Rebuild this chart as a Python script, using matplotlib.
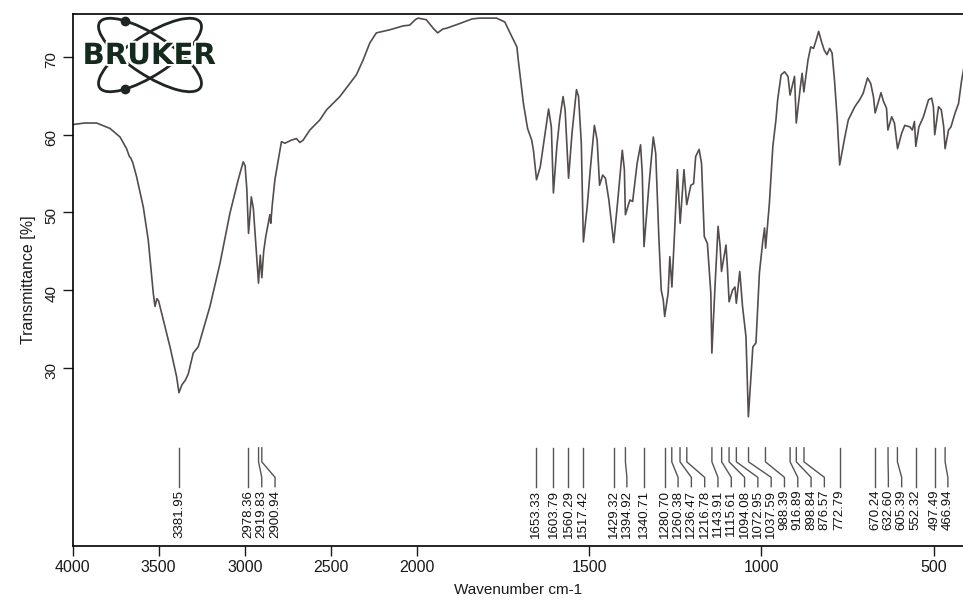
import numpy as np
import matplotlib
matplotlib.use("Agg")
import matplotlib.pyplot as plt
from matplotlib.patches import Ellipse
import matplotlib.patheffects as pe

plt.rcParams['font.family'] = ['Liberation Sans', 'DejaVu Sans']

# spectrum (wavenumber cm-1, transmittance %)
wavenumber = [
    4000, 3930, 3860, 3782, 3724, 3686, 3670, 3662, 3650, 3628, 3589, 3560,
    3531, 3521, 3510, 3500, 3473, 3434, 3396, 3382, 3365, 3345, 3328, 3299,
    3270, 3240, 3202, 3144, 3086, 3038, 3009, 2998, 2988, 2978, 2970, 2962,
    2950, 2932, 2920, 2910, 2901, 2890, 2878, 2854, 2849, 2840, 2825, 2787,
    2767, 2729, 2700, 2680, 2661, 2622, 2564, 2525, 2448, 2390, 2352, 2313,
    2274, 2236, 2158, 2080, 2042, 2010, 1997, 1973, 1953, 1940, 1925, 1914,
    1876, 1840, 1818, 1769, 1745, 1730, 1710, 1706, 1691, 1679, 1667, 1662,
    1653, 1642, 1628, 1618, 1610, 1604, 1594, 1586, 1576, 1570, 1560, 1550,
    1537, 1531, 1523, 1517, 1506, 1497, 1485, 1477, 1470, 1461, 1453, 1443,
    1429, 1417, 1404, 1398, 1395, 1382, 1374, 1361, 1351, 1346, 1341, 1327,
    1314, 1307, 1298, 1291, 1285, 1281, 1271, 1266, 1260, 1252, 1244, 1236,
    1225, 1217, 1205, 1197, 1191, 1181, 1174, 1166, 1157, 1147, 1144, 1135,
    1126, 1120, 1116, 1103, 1099, 1094, 1084, 1077, 1073, 1063, 1055, 1045,
    1038, 1025, 1016, 1006, 996, 991, 988, 977, 967, 958, 953, 943,
    933, 923, 917, 904, 899, 887, 882, 877, 865, 857, 849, 841,
    834, 826, 818, 810, 802, 795, 788, 780, 773, 758, 748, 729,
    715, 705, 692, 683, 675, 670, 659, 653, 646, 637, 633, 622,
    614, 605, 593, 584, 569, 562, 556, 552, 543, 530, 515, 506,
    501, 497, 486, 478, 471, 467, 457, 450, 438, 428, 419, 410,
]
transmittance = [
    61.3, 61.5, 61.5, 60.8, 59.7, 58.2, 57.2, 57.0, 56.4, 54.6, 50.7, 46.4,
    39.6, 37.9, 38.9, 38.6, 36.2, 32.7, 28.9, 26.8, 27.8, 28.4, 29.2, 31.9,
    32.7, 35.0, 37.9, 43.4, 49.9, 54.2, 56.5, 56.0, 53.0, 47.3, 49.5, 52.0,
    50.5, 44.7, 40.9, 44.5, 41.6, 45.0, 46.9, 49.7, 48.6, 51.0, 54.2, 59.1,
    58.9, 59.3, 59.5, 59.0, 59.3, 60.6, 61.9, 63.2, 64.9, 66.6, 67.7, 69.6,
    71.8, 73.1, 73.5, 74.0, 74.1, 74.8, 75.0, 74.8, 73.7, 73.1, 73.6, 73.7,
    74.3, 74.9, 75.0, 75.0, 74.5, 73.1, 71.3, 69.6, 64.0, 60.8, 59.3, 58.0,
    54.2, 55.9, 60.2, 63.3, 61.0, 52.5, 58.5, 61.9, 64.9, 63.2, 54.4, 60.2,
    65.8, 64.9, 58.9, 46.2, 50.7, 55.5, 61.2, 59.3, 53.5, 54.8, 54.4, 51.6,
    46.1, 51.6, 58.0, 55.5, 49.7, 51.6, 51.4, 56.3, 58.7, 55.0, 45.6, 53.3,
    59.7, 57.6, 46.9, 40.0, 38.7, 36.6, 39.6, 44.3, 40.4, 47.7, 55.5, 48.6,
    55.5, 51.0, 53.5, 53.7, 57.2, 58.1, 56.3, 46.9, 46.0, 39.6, 31.9, 40.4,
    48.2, 45.6, 42.4, 45.8, 43.0, 38.5, 40.0, 40.4, 38.3, 42.4, 37.9, 34.0,
    23.7, 32.7, 33.2, 42.2, 46.4, 48.0, 45.4, 51.2, 58.5, 61.9, 64.5, 67.7,
    68.1, 67.5, 65.1, 67.5, 61.5, 66.2, 67.9, 65.5, 69.6, 71.3, 71.1, 72.2,
    73.3, 72.0, 70.9, 70.3, 71.1, 70.5, 67.0, 61.9, 56.1, 59.7, 61.9, 63.6,
    64.5, 65.3, 67.3, 66.6, 64.9, 62.8, 64.5, 65.4, 64.3, 63.4, 60.6, 62.3,
    61.5, 58.2, 60.2, 61.2, 61.0, 60.6, 61.7, 58.5, 61.0, 62.3, 64.5, 64.7,
    63.6, 60.0, 63.6, 63.2, 61.0, 58.2, 60.6, 61.0, 62.8, 64.0, 67.0, 69.2,
]

peaks = [3381.95, 2978.36, 2919.83, 2900.94, 1653.33, 1603.79, 1560.29,
         1517.42, 1429.32, 1394.92, 1340.71, 1280.70, 1260.38, 1236.47,
         1216.78, 1143.91, 1115.61, 1094.08, 1072.95, 1037.59, 988.39,
         916.89, 898.84, 876.57, 772.79, 670.24, 632.60, 605.39, 552.32,
         497.49, 466.94]

x_ticks = [4000, 3500, 3000, 2500, 2000, 1500, 1000, 500]
y_ticks = [30, 40, 50, 60, 70]


# bruker style axis: half scale above 2000 cm-1
def fwd(w):
    w = np.asarray(w, dtype=float)
    return np.where(w >= 2000, w, 2 * w - 2000)


def inv(u):
    u = np.asarray(u, dtype=float)
    return np.where(u >= 2000, u, (u + 2000) / 2)


W, H = 963, 608
fig = plt.figure(figsize=(W / 100, H / 100), dpi=100)
ax = fig.add_axes([72.5 / W, 1 - 546 / H, 1 - 72.5 / W, (546 - 14) / H])
ax.set_xscale('function', functions=(fwd, inv))
ax.plot(wavenumber, transmittance, color='#544d4d', lw=1.2)
ax.set_xlim(4000, 415)
ax.set_ylim(7.07, 75.53)

ax.set_xticks(x_ticks)
ax.set_xticklabels([str(t) for t in x_ticks])
ax.set_yticks(y_ticks)
ax.set_yticklabels([str(t) for t in y_ticks])
ax.minorticks_off()
ax.tick_params(direction='out', length=7, width=1, labelsize=11.5, pad=3,
               colors='#1a1a1a')
ax.tick_params(axis='y', labelrotation=90, labelsize=11)
for s in ['left', 'bottom', 'top']:
    ax.spines[s].set_linewidth(1.2)
ax.spines['right'].set_visible(False)

ax.set_xlabel('Wavenumber cm-1', fontsize=11, labelpad=6, color='#1a1a1a')
ax.set_ylabel('Transmittance [%]', fontsize=11.5, labelpad=6, color='#1a1a1a')

# peak annotation: lines + labels spread so they don't overlap
pts = ax.transData.transform(np.column_stack([peaks, np.full(len(peaks), 20.0)]))
px = pts[:, 0]
lab = px.copy()
for i in range(1, len(lab)):
    lab[i] = max(px[i], lab[i - 1] + 13.3)
lab_w = ax.transData.inverted().transform(np.column_stack([lab, pts[:, 1]]))[:, 0]

for p, lw_, val in zip(peaks, lab_w, peaks):
    ax.plot([p, p, lw_, lw_], [19.7, 17.9, 15.9, 14.7], color='#555555', lw=1.0)
    ax.text(lw_, 14.3, '%.2f' % val, rotation=90, ha='center', va='top',
            fontsize=9.5, color='#111111')

# logo
lax = fig.add_axes([72 / W, 1 - 94 / H, 156 / W, 80 / H])
lax.set_xlim(0, 156)
lax.set_ylim(0, 80)
lax.axis('off')
for ang in (-33, 33):
    lax.add_patch(Ellipse((78, 39), 120, 40, angle=ang, fill=False,
                          ec='#1f2622', lw=2.0))
lax.plot([53, 53], [73, 5], 'o', color='#1f2622', ms=6, ls='none')
lax.text(77, 38, 'BRUKER', ha='center', va='center', fontsize=21,
         fontweight='bold', family='DejaVu Sans', color='#142a1c',
         path_effects=[pe.withStroke(linewidth=3, foreground='white')])

fig.savefig('out.png', dpi=100)
